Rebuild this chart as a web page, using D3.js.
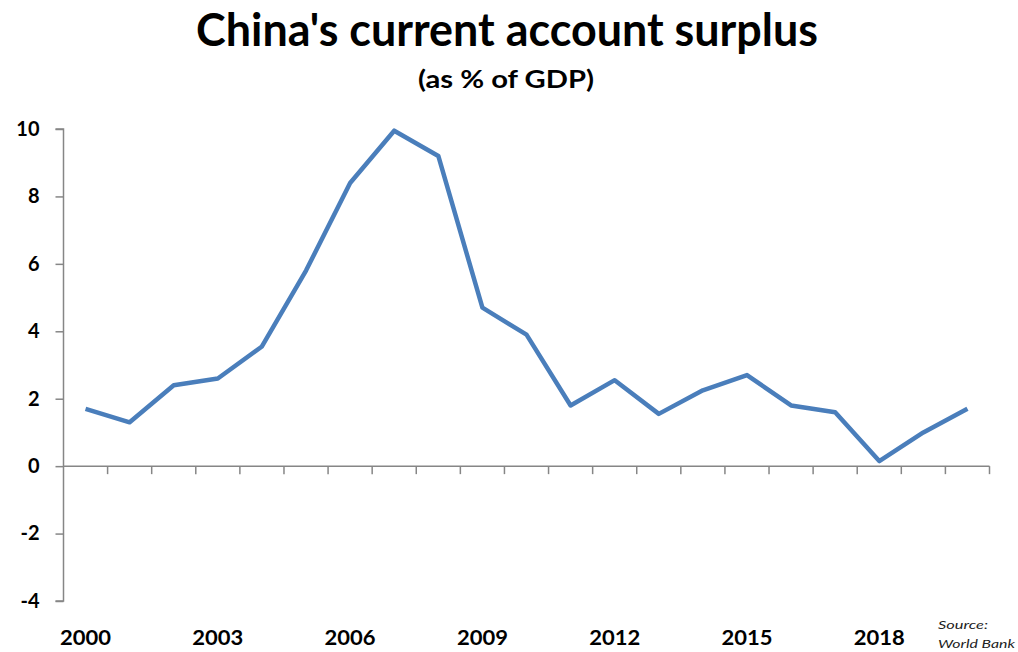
<!DOCTYPE html>
<html>
<head>
<meta charset="utf-8">
<script src="https://cdn.jsdelivr.net/npm/d3@7"></script>
<style>
  body { margin: 0; background: #fff; }
  text { font-family: Lato, "Open Sans", sans-serif; font-weight: bold; fill: #000; }
</style>
</head>
<body>
<svg id="chart" width="1018" height="652"></svg>
<script>
const years = d3.range(2000, 2021);
const surplus = [1.7, 1.3, 2.4, 2.6, 3.55, 5.8, 8.4, 9.95, 9.2, 4.7, 3.9, 1.8, 2.55, 1.55, 2.25, 2.7, 1.8, 1.6, 0.15, 1.0, 1.7];
const yTicks = [-4, -2, 0, 2, 4, 6, 8, 10];
const xLabelYears = [2000, 2003, 2006, 2009, 2012, 2015, 2018];

const svg = d3.select('#chart');
const plotLeft = 63.5, plotRight = 989.5, plotTop = 129, plotBottom = 601;

const x = d3.scaleBand().domain(years).range([plotLeft, plotRight]);
const y = d3.scaleLinear().domain([-4, 10]).range([plotBottom, plotTop]);

// title
svg.append('text')
  .attr('x', 507).attr('y', 46)
  .attr('text-anchor', 'middle')
  .attr('textLength', 622)
  .attr('lengthAdjust', 'spacingAndGlyphs')
  .style('font-size', '45px')
  .text("China's current account surplus");

svg.append('text')
  .attr('x', 506).attr('y', 88)
  .attr('text-anchor', 'middle')
  .attr('textLength', 176)
  .attr('lengthAdjust', 'spacingAndGlyphs')
  .style('font-size', '25px')
  .text('(as % of GDP)');

const axisColor = '#868686';

// y axis
const yAxis = svg.append('g')
  .attr('transform', `translate(${plotLeft},0)`)
  .call(d3.axisLeft(y).tickValues(yTicks).tickSize(8).tickPadding(14).tickFormat(d => String(d)));
yAxis.select('.domain').attr('stroke', axisColor).attr('stroke-width', 1.5).attr('d', `M-8,${plotTop}H0V${plotBottom}H-8`);
yAxis.selectAll('.tick line').attr('stroke', axisColor).attr('stroke-width', 1.5);
yAxis.selectAll('.tick text')
  .style('font-size', '20px')
  .style('font-family', 'Lato, sans-serif')
  .style('font-weight', 'bold')
  .attr('fill', '#000')
  .attr('x', -24);

// x axis along zero line, ticks at band boundaries
const xg = svg.append('g');
xg.append('line')
  .attr('x1', plotLeft).attr('x2', plotRight)
  .attr('y1', y(0)).attr('y2', y(0))
  .attr('stroke', axisColor).attr('stroke-width', 1.5);
const boundaries = years.map(d => x(d) + x.bandwidth());
xg.selectAll('line.xt').data(boundaries).enter().append('line')
  .attr('class', 'xt')
  .attr('x1', d => d).attr('x2', d => d)
  .attr('y1', y(0)).attr('y2', y(0) + 8)
  .attr('stroke', axisColor).attr('stroke-width', 1.5);

xg.selectAll('text.xl').data(xLabelYears).enter().append('text')
  .attr('class', 'xl')
  .attr('x', d => x(d) + x.bandwidth() / 2)
  .attr('y', 645)
  .attr('text-anchor', 'middle')
  .attr('textLength', 51)
  .attr('lengthAdjust', 'spacingAndGlyphs')
  .style('font-size', '21px')
  .text(d => d);

// line
const line = d3.line()
  .x((d, i) => x(years[i]) + x.bandwidth() / 2)
  .y(d => y(d));

svg.append('path')
  .datum(surplus)
  .attr('d', line)
  .attr('fill', 'none')
  .attr('stroke', '#4a7ebb')
  .attr('stroke-width', 4.5)
  .attr('stroke-linejoin', 'round');

// source
svg.append('text')
  .attr('x', 938).attr('y', 629)
  .attr('textLength', 50)
  .attr('lengthAdjust', 'spacingAndGlyphs')
  .style('font-size', '12px')
  .style('font-style', 'italic')
  .style('font-weight', 'normal')
  .style('fill', '#222')
  .text('Source:');
svg.append('text')
  .attr('x', 938).attr('y', 648)
  .attr('textLength', 77)
  .attr('lengthAdjust', 'spacingAndGlyphs')
  .style('font-size', '12px')
  .style('font-style', 'italic')
  .style('font-weight', 'normal')
  .style('fill', '#222')
  .text('World Bank');
</script>
</body>
</html>
